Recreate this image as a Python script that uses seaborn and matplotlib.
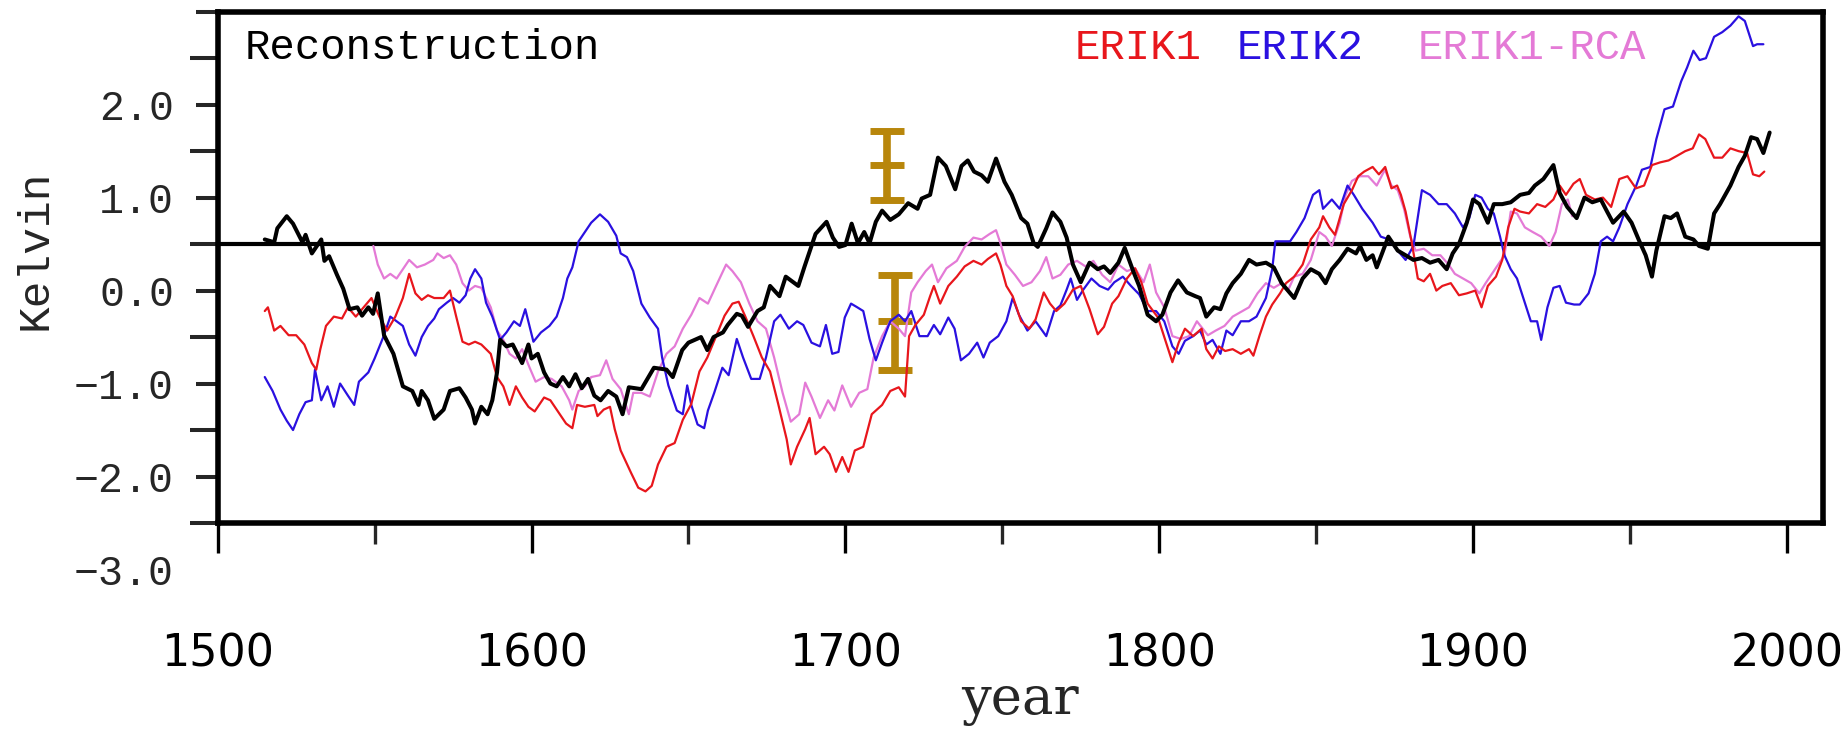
import numpy as np
import pandas as pd
import matplotlib
matplotlib.use("Agg")
import matplotlib.pyplot as plt
import matplotlib.transforms as mtransforms
from matplotlib.ticker import FixedLocator, NullFormatter
import seaborn as sns

# ---------------------------------------------------------------- data
recon_years = [1515, 1518, 1519, 1522, 1524, 1527, 1528, 1530, 1533, 1534, 1535.5, 1538, 1540, 1542,
               1544.5, 1546, 1548, 1549.5, 1551, 1553, 1556, 1559, 1562, 1564, 1565, 1567, 1569, 1572,
               1574, 1577, 1579, 1581, 1582, 1584, 1586, 1587.5, 1589, 1590, 1592, 1594, 1597, 1599,
               1600, 1602, 1604, 1606, 1608, 1610, 1612, 1614, 1616, 1618, 1620, 1622, 1624.4, 1627,
               1629, 1631, 1635, 1639, 1643, 1645, 1648, 1650, 1654, 1656, 1658, 1661, 1662.5, 1665.4,
               1667, 1669, 1672, 1674, 1676, 1679, 1681, 1685, 1687, 1690.5, 1694, 1696, 1698, 1700,
               1702, 1704, 1706, 1707.7, 1709.7, 1711.7, 1714.3, 1717, 1720, 1723, 1724.3, 1727, 1729.5,
               1732, 1735, 1737, 1739, 1741, 1743.4, 1745.4, 1748, 1750.7, 1753, 1756, 1758, 1760,
               1761.3, 1764, 1766, 1768.5, 1770.5, 1772.5, 1775, 1777.8, 1780.4, 1782.4, 1784.4, 1787,
               1789, 1791.7, 1793.6, 1796.3, 1799, 1801, 1803.6, 1806, 1808.8, 1811.5, 1813, 1815,
               1817.5, 1819.5, 1821.4, 1823.4, 1826, 1828.6, 1831, 1834, 1836.5, 1839, 1841, 1843,
               1845.7, 1848.3, 1851, 1853, 1855, 1857.5, 1860, 1862.7, 1864, 1866, 1868, 1869.3, 1871,
               1873, 1876, 1878.5, 1881, 1883.7, 1886.3, 1889, 1891.6, 1893.5, 1895.5, 1898, 1900, 1902,
               1904.7, 1906.6, 1909.3, 1912, 1915, 1917.8, 1919.7, 1922.4, 1925.6, 1927.6, 1930, 1933,
               1935.5, 1938, 1940.7, 1942.7, 1944.6, 1948, 1950.5, 1953, 1955, 1957, 1958.4, 1961, 1963,
               1965, 1967.6, 1970.2, 1972, 1974.8, 1976.8, 1978.7, 1982, 1984.6, 1986.6, 1988.6, 1990.5,
               1992.5, 1994.5]
recon_vals = [0.55, 0.52, 0.67, 0.80, 0.72, 0.52, 0.60, 0.40, 0.55, 0.32, 0.37, 0.17, 0.02, -0.20,
              -0.18, -0.27, -0.18, -0.25, -0.03, -0.48, -0.68, -1.03, -1.08, -1.23, -1.08, -1.18, -1.38, -1.28,
              -1.08, -1.05, -1.15, -1.28, -1.43, -1.25, -1.33, -1.18, -0.88, -0.53, -0.60, -0.58, -0.78, -0.58,
              -0.73, -0.68, -0.88, -1.00, -1.03, -0.93, -1.03, -0.90, -1.05, -0.95, -1.13, -1.18, -1.08, -1.14,
              -1.33, -1.04, -1.06, -0.83, -0.85, -0.93, -0.64, -0.56, -0.50, -0.64, -0.50, -0.45, -0.37, -0.25,
              -0.27, -0.39, -0.22, -0.18, 0.05, -0.06, 0.15, 0.05, 0.26, 0.61, 0.74, 0.57, 0.47, 0.49,
              0.72, 0.51, 0.63, 0.51, 0.74, 0.86, 0.76, 0.82, 0.94, 0.88, 0.99, 1.03, 1.43,
              1.34, 1.09, 1.34, 1.40, 1.28, 1.24, 1.17, 1.42, 1.17, 1.03, 0.78, 0.72, 0.51,
              0.47, 0.67, 0.84, 0.74, 0.57, 0.28, 0.09, 0.30, 0.23, 0.26, 0.19, 0.30,
              0.46, 0.21, 0.05, -0.26, -0.33, -0.26, -0.02, 0.11, -0.02, -0.06, -0.08, -0.28,
              -0.18, -0.20, -0.03, 0.08, 0.18, 0.33, 0.28, 0.30, 0.25, 0.08, 0.00, -0.08,
              0.13, 0.23, 0.18, 0.08, 0.23, 0.33, 0.45, 0.40, 0.48, 0.33, 0.38, 0.25, 0.40,
              0.58, 0.43, 0.38, 0.33, 0.35, 0.30, 0.33, 0.23, 0.40, 0.50, 0.73, 0.98, 0.93,
              0.73, 0.93, 0.93, 0.95, 1.03, 1.05, 1.13, 1.20, 1.35, 1.05, 0.90, 0.78,
              1.00, 0.95, 0.98, 0.85, 0.73, 0.85, 0.73, 0.53, 0.38, 0.15, 0.43, 0.80, 0.78,
              0.83, 0.58, 0.55, 0.48, 0.45, 0.83, 0.93, 1.13, 1.33, 1.45, 1.65, 1.63,
              1.48, 1.70]

erik1_years = [1515, 1516, 1518, 1520, 1522.6, 1525, 1527.6, 1530, 1531.4, 1532.7, 1534.5, 1537, 1539.6,
               1541.5, 1544, 1546.5, 1549, 1551.5, 1554, 1556.6, 1559, 1561, 1563, 1565, 1567, 1569,
               1572, 1574, 1576, 1578, 1580, 1582, 1584, 1587, 1589, 1591, 1593, 1595, 1597, 1599,
               1601, 1604, 1606, 1609, 1611, 1613, 1614.5, 1617, 1620, 1621, 1623, 1625, 1626.5,
               1628.4, 1631.7, 1634, 1636.3, 1638.3, 1640.3, 1643, 1645.6, 1648.2, 1650.9, 1653.5,
               1656, 1658.8, 1661.5, 1664, 1666, 1668, 1670.7, 1673.4, 1676, 1678.6, 1681.3, 1682.6,
               1684.6, 1687.2, 1688.6, 1690.5, 1693.2, 1695, 1697, 1699, 1701, 1703, 1705.7, 1708.4,
               1711.7, 1714.3, 1717, 1719, 1720.3, 1722.3, 1725, 1727, 1728.2, 1730.2, 1732.8, 1735.5,
               1738, 1740.8, 1743.4, 1745.4, 1748, 1749.4, 1751.3, 1753.3, 1756, 1758.6, 1760.6,
               1763.2, 1765.2, 1767.2, 1769.8, 1772.5, 1775, 1777.8, 1780.4, 1782.4, 1785, 1787,
               1789.7, 1792.3, 1794.3, 1796.3, 1799.6, 1802.2, 1804.2, 1806.2, 1808.2, 1810.8, 1813.5,
               1815, 1817, 1819, 1821, 1823.4, 1826, 1828.6, 1830, 1832, 1834, 1836, 1838.5, 1840.4,
               1843, 1845.7, 1848.3, 1851, 1852.2, 1854.2, 1856, 1858.8, 1861.4, 1863.4, 1865.3, 1868,
               1870, 1872, 1874, 1875.8, 1877, 1878.5, 1880.4, 1882.4, 1884.3, 1886.3, 1888.3, 1890.2,
               1892.9, 1895.5, 1898, 1900.7, 1902.7, 1904.7, 1907.3, 1909.3, 1911.2, 1913.2, 1915,
               1917.8, 1920.4, 1923, 1925.6, 1927.6, 1929.6, 1932, 1934, 1936, 1938.8, 1941.4, 1944,
               1946.6, 1949.2, 1951.9, 1954.5, 1957, 1959.7, 1962.3, 1965, 1967.6, 1970, 1972, 1974,
               1976.8, 1979.4, 1982, 1984.6, 1987.3, 1989.2, 1991.2, 1992.8]
erik1_vals = [-0.22, -0.18, -0.43, -0.38, -0.48, -0.48, -0.58, -0.78, -0.85, -0.63, -0.38, -0.28, -0.30,
              -0.18, -0.28, -0.18, -0.08, -0.28, -0.43, -0.28, -0.08, 0.18, -0.03, -0.10, -0.05, -0.08,
              -0.08, 0.00, -0.28, -0.55, -0.58, -0.55, -0.58, -0.68, -0.93, -1.03, -1.23, -1.03, -1.15, -1.25,
              -1.30, -1.15, -1.18, -1.33, -1.43, -1.48, -1.23, -1.25, -1.23, -1.35, -1.28, -1.25, -1.49,
              -1.72, -1.96, -2.12, -2.16, -2.10, -1.87, -1.68, -1.64, -1.39, -1.22, -0.87,
              -0.72, -0.49, -0.27, -0.14, -0.12, -0.27, -0.49, -0.72, -0.87, -1.22, -1.60, -1.87,
              -1.68, -1.49, -1.37, -1.76, -1.68, -1.76, -1.95, -1.79, -1.95, -1.72, -1.68, -1.33,
              -1.23, -1.08, -1.04, -1.14, -0.49, -0.37, -0.26, -0.06, 0.05, -0.14, 0.05, 0.15,
              0.26, 0.32, 0.28, 0.34, 0.40, 0.28, 0.05, -0.06, -0.33, -0.41, -0.31,
              -0.02, -0.14, -0.22, -0.14, 0.01, 0.05, -0.20, -0.47, -0.39, -0.14, -0.06,
              0.13, 0.24, 0.09, -0.14, -0.29, -0.56, -0.77, -0.56, -0.41, -0.49, -0.41,
              -0.63, -0.73, -0.60, -0.65, -0.63, -0.68, -0.63, -0.70, -0.48, -0.28, -0.15, -0.03, 0.08,
              0.15, 0.28, 0.55, 0.68, 0.80, 0.68, 0.60, 0.93, 1.08, 1.23, 1.28, 1.33,
              1.25, 1.33, 1.10, 1.13, 1.03, 0.85, 0.53, 0.13, 0.10, 0.18, 0.00, 0.05,
              0.08, -0.05, -0.03, 0.00, -0.18, 0.05, 0.15, 0.33, 0.68, 0.88, 0.85,
              0.83, 0.93, 0.90, 0.98, 1.13, 1.03, 1.15, 1.20, 1.03, 0.98, 1.00, 0.90,
              1.20, 1.23, 1.10, 1.13, 1.35, 1.38, 1.40, 1.45, 1.50, 1.53, 1.68, 1.63,
              1.43, 1.43, 1.53, 1.50, 1.48, 1.25, 1.23, 1.28]

erik2_years = [1515, 1517.5, 1520, 1522, 1524, 1526, 1528, 1530, 1531, 1533, 1535, 1537, 1539, 1541.5,
               1543.5, 1545, 1548, 1550, 1553, 1555, 1557, 1559, 1561, 1563, 1565, 1567, 1569, 1570.5,
               1573, 1575, 1577, 1579, 1580.5, 1582, 1584, 1585.5, 1587.5, 1590, 1592, 1594.4, 1596.3,
               1598, 1600.6, 1603, 1605.7, 1608, 1610, 1611.4, 1613, 1615, 1617, 1619, 1621.8, 1624.4,
               1627, 1628.4, 1630.4, 1632.4, 1635, 1637.7, 1640.3, 1641.6, 1643.6, 1646.3, 1648.2,
               1649.6, 1650.9, 1652.9, 1655, 1656.2, 1658.2, 1660.8, 1662.8, 1665.4, 1667.4, 1670,
               1672.7, 1674.7, 1677.3, 1679.3, 1682, 1684.6, 1686.6, 1689.2, 1691.9, 1693.8, 1695.8,
               1697.8, 1699.8, 1701.8, 1703.8, 1705.7, 1707.7, 1709.7, 1711.7, 1714.3, 1717, 1719, 1721,
               1723.6, 1726.2, 1728.2, 1730.2, 1732.8, 1734.8, 1736.8, 1739.4, 1742, 1744, 1746, 1748.7,
               1751.3, 1753.3, 1755.3, 1758, 1760.6, 1764, 1766.5, 1768.5, 1770.5, 1771.8, 1773.8,
               1775.8, 1778.4, 1781, 1783.7, 1785.7, 1788.4, 1791, 1793.6, 1796.3, 1799, 1801.6, 1804.2,
               1806.2, 1808.2, 1810.8, 1813, 1815, 1817, 1819.5, 1821.4, 1823.4, 1826, 1828.6, 1831,
               1834, 1836, 1837, 1839, 1841.7, 1843.7, 1846.3, 1849, 1851, 1852.2, 1855, 1857.5, 1860,
               1862, 1864.7, 1868, 1870.6, 1873.2, 1876, 1878.5, 1881, 1883.7, 1886.3, 1889, 1891.6,
               1894.2, 1896.8, 1898.8, 1900.7, 1902.7, 1904.7, 1906.6, 1908.6, 1910, 1912, 1914, 1916.5,
               1918.4, 1920.4, 1921.7, 1923.7, 1925.6, 1927.6, 1929.6, 1932.2, 1934, 1936.8, 1938.8,
               1940.7, 1942.7, 1944.6, 1946.6, 1949.2, 1952, 1953.8, 1956.5, 1958.4, 1961, 1963.7,
               1966.3, 1968.2, 1970.2, 1972.2, 1974.2, 1976.8, 1979.4, 1982, 1984.6, 1986.6, 1989.2,
               1990.5, 1992.5]
erik2_vals = [-0.93, -1.08, -1.28, -1.40, -1.50, -1.33, -1.20, -1.18, -0.85, -1.18, -1.03, -1.25, -1.00, -1.13,
              -1.23, -0.98, -0.88, -0.73, -0.48, -0.28, -0.33, -0.38, -0.58, -0.70, -0.50, -0.38, -0.30, -0.20,
              -0.13, -0.08, -0.13, -0.05, 0.13, 0.23, 0.13, -0.13, -0.28, -0.53, -0.45, -0.33, -0.38,
              -0.20, -0.55, -0.45, -0.38, -0.28, -0.08, 0.13, 0.25, 0.53, 0.63, 0.73, 0.82, 0.74,
              0.59, 0.40, 0.36, 0.21, -0.14, -0.29, -0.41, -0.72, -1.02, -1.29, -1.33,
              -1.02, -1.23, -1.44, -1.48, -1.29, -1.10, -0.83, -0.91, -0.52, -0.72, -0.95,
              -0.95, -0.72, -0.33, -0.26, -0.41, -0.33, -0.37, -0.56, -0.60, -0.37, -0.68,
              -0.66, -0.29, -0.14, -0.18, -0.22, -0.52, -0.75, -0.56, -0.33, -0.26, -0.33, -0.22,
              -0.49, -0.49, -0.37, -0.47, -0.29, -0.41, -0.75, -0.68, -0.56, -0.72, -0.56, -0.49,
              -0.33, -0.08, -0.26, -0.43, -0.33, -0.49, -0.22, -0.16, 0.01, 0.13, -0.10,
              0.01, 0.13, 0.05, 0.01, 0.09, 0.15, 0.05, -0.04, -0.22, -0.22, -0.33, -0.60,
              -0.68, -0.54, -0.49, -0.43, -0.58, -0.53, -0.68, -0.43, -0.48, -0.33, -0.33, -0.28,
              -0.08, 0.23, 0.53, 0.53, 0.53, 0.63, 0.78, 1.03, 1.08, 0.88, 0.98, 0.88, 1.13,
              1.03, 0.88, 0.73, 0.58, 0.55, 0.43, 0.33, 0.48, 1.08, 1.03, 0.93, 0.93,
              0.83, 0.68, 0.78, 1.03, 1.00, 0.88, 0.83, 0.58, 0.38, 0.23, 0.13, -0.13,
              -0.33, -0.33, -0.53, -0.18, 0.03, 0.05, -0.13, -0.15, -0.15, -0.03, 0.18,
              0.53, 0.58, 0.53, 0.68, 0.93, 1.13, 1.30, 1.33, 1.63, 1.95, 1.98,
              2.25, 2.40, 2.58, 2.48, 2.50, 2.73, 2.78, 2.85, 2.95, 2.90, 2.63,
              2.65, 2.65]

rca_years = [1549.6, 1551, 1553, 1555, 1557, 1559, 1561, 1563.5, 1566, 1568.7, 1570, 1572, 1574, 1576,
             1578, 1580, 1582, 1584, 1587, 1589, 1591, 1593, 1595, 1597, 1599.4, 1601.3, 1604, 1606.4,
             1609.6, 1612, 1613, 1615, 1617, 1619, 1621.8, 1623.8, 1625.8, 1628.4, 1631, 1632.4, 1635,
             1637.7, 1640.3, 1643, 1645.6, 1648.2, 1650.9, 1653.5, 1656.2, 1658.8, 1662, 1664, 1666.7,
             1669.4, 1672, 1674.7, 1677.3, 1680, 1682.6, 1685.3, 1687.2, 1689.2, 1691.9, 1694.5, 1696.5,
             1699, 1701.8, 1704.4, 1707, 1709, 1711.7, 1714.3, 1717, 1719, 1721, 1723, 1725.6, 1727.6,
             1729.5, 1732.2, 1735.5, 1738, 1740.8, 1743.4, 1746, 1748, 1749.4, 1751.3, 1754, 1756.6,
             1759.3, 1762, 1764, 1766, 1768.5, 1771, 1773.8, 1776.5, 1779, 1781.8, 1784.4, 1787, 1789.7,
             1792.3, 1795, 1797, 1799, 1801.6, 1804.2, 1806.9, 1809.5, 1812, 1815.5, 1818, 1820.8,
             1823.4, 1826, 1828.6, 1831.3, 1834, 1836.5, 1839, 1841, 1843, 1845.7, 1848.3, 1851, 1853,
             1855, 1857.5, 1859.4, 1861.4, 1864, 1866.6, 1869.3, 1871.9, 1874, 1876, 1878, 1880,
             1881.7, 1884.3, 1887, 1889.6, 1892.2, 1894.2, 1896.8, 1899.4, 1902, 1904, 1906, 1908,
             1910, 1912, 1914, 1916.5, 1919, 1921.7, 1924.3, 1926.3, 1928.3, 1930.2, 1931.6]
rca_vals = [0.48, 0.28, 0.13, 0.18, 0.13, 0.23, 0.33, 0.25, 0.28, 0.33, 0.40, 0.35, 0.38, 0.28,
            0.08, 0.00, 0.05, 0.03, -0.18, -0.43, -0.53, -0.68, -0.73, -0.63, -0.83, -0.98, -0.93, -0.95,
            -1.03, -1.18, -1.28, -1.08, -1.03, -0.93, -0.91, -0.75, -0.95, -1.06, -1.33, -1.10, -1.10,
            -1.14, -0.87, -0.68, -0.60, -0.41, -0.26, -0.08, -0.14, 0.05, 0.28, 0.21, 0.09,
            -0.14, -0.33, -0.41, -0.72, -1.10, -1.41, -1.33, -0.99, -1.14, -1.37, -1.18, -1.29,
            -1.02, -1.25, -1.10, -1.06, -0.72, -0.49, -0.33, -0.41, -0.49, -0.02, 0.09, 0.21, 0.28,
            0.09, 0.24, 0.32, 0.47, 0.57, 0.55, 0.61, 0.65, 0.51, 0.28, 0.17, 0.05,
            0.09, 0.21, 0.36, 0.13, 0.17, 0.28, 0.32, 0.26, 0.32, 0.17, 0.09, 0.28, 0.21,
            0.24, 0.09, 0.28, -0.02, -0.18, -0.49, -0.52, -0.49, -0.33, -0.48, -0.43, -0.38,
            -0.28, -0.23, -0.18, -0.03, 0.08, 0.03, 0.08, 0.00, 0.15, 0.18, 0.33, 0.63, 0.58,
            0.48, 0.73, 1.03, 1.18, 1.23, 1.23, 1.13, 1.30, 1.13, 1.08, 0.88, 0.58,
            0.43, 0.45, 0.38, 0.38, 0.28, 0.18, 0.13, 0.08, -0.03, 0.08, 0.18, 0.28,
            0.38, 0.85, 0.83, 0.68, 0.63, 0.58, 0.48, 0.63, 0.93, 0.98, 0.80]

# two calibration estimates with asymmetric ranges
bar_years = [1713.4, 1715.7]
bar_mid = [1.35, -0.33]
bar_low = [0.975, -0.85]
bar_high = [1.72, 0.17]

reference_level = 0.5

xtick_years = [1500, 1600, 1700, 1800, 1900, 2000]
xtick_labels = ["1500", "1600", "1700", "1800", "1900", "2000"]
xminor_years = [1550, 1650, 1750, 1850, 1950]
ytick_vals = [2.0, 1.0, 0.0, -1.0, -2.0, -3.0]
ytick_labels = ["2.0", "1.0", "0.0", "\u22121.0", "\u22122.0", "\u22123.0"]
ymajor_marks = [3.0, 2.0, 1.0, 0.0, -1.0, -2.0]
yminor_marks = [2.5, 1.5, 0.5, -0.5, -1.5, -2.5]

series_names = ["ERIK1-RCA", "ERIK2", "ERIK1", "Reconstruction"]
series_colors = {"ERIK1": "#e8161c", "ERIK2": "#2a10e0", "ERIK1-RCA": "#e47ad6",
                 "Reconstruction": "black"}
bar_color = "#b8860b"

# ---------------------------------------------------------------- style
sns.set_style("white")
mono = ["Liberation Mono", "DejaVu Sans Mono"]
plt.rcParams["font.family"] = mono

W, H = 1845, 729
fig = plt.figure(figsize=(W / 100, H / 100), dpi=100)
ax_left, ax_right, ax_top, ax_bottom = 217.7, 1823.0, 11.7, 523.0
ax = fig.add_axes([ax_left / W, 1 - ax_bottom / H,
                   (ax_right - ax_left) / W, (ax_bottom - ax_top) / H])

frames = {
    "ERIK1-RCA": pd.DataFrame({"year": rca_years, "K": rca_vals}),
    "ERIK2": pd.DataFrame({"year": erik2_years, "K": erik2_vals}),
    "ERIK1": pd.DataFrame({"year": erik1_years, "K": erik1_vals}),
    "Reconstruction": pd.DataFrame({"year": recon_years, "K": recon_vals}),
}
widths = {"ERIK1-RCA": 1.6, "ERIK2": 1.6, "ERIK1": 1.6, "Reconstruction": 2.9}

ax.axhline(reference_level, color="black", lw=3.0, zorder=1.8)

mid = np.array(bar_mid)
yerr = np.vstack([mid - np.array(bar_low), np.array(bar_high) - mid])
ax.errorbar(bar_years, bar_mid, yerr=yerr, fmt="_", color=bar_color, ms=24, mew=5,
            elinewidth=5.5, capsize=12, capthick=5, zorder=1.5)

for name in series_names:
    sns.lineplot(data=frames[name], x="year", y="K", color=series_colors[name],
                 linewidth=widths[name], estimator=None, legend=False, ax=ax, zorder=2)

ax.set_xlim(1500, 2011.5)
ax.set_ylim(-2.5, 3.0)

for s in ax.spines.values():
    s.set_visible(True)
    s.set_linewidth(4)
    s.set_color("black")

# x axis ticks and labels
ax.set_xticks(xtick_years)
ax.set_xticklabels(xtick_labels, fontfamily="DejaVu Sans", fontsize=32)
ax.xaxis.set_minor_locator(FixedLocator(xminor_years))
ax.tick_params(axis="x", which="major", direction="out", length=21.6, width=2.4, pad=57,
               bottom=True, colors="black")
ax.tick_params(axis="x", which="minor", direction="out", length=15, width=2.4, bottom=True)

# y axis: short marks at integers, long marks at half-integers
ax.yaxis.set_major_locator(FixedLocator(ymajor_marks))
ax.yaxis.set_minor_locator(FixedLocator(yminor_marks))
ax.yaxis.set_major_formatter(NullFormatter())
ax.tick_params(axis="y", which="major", direction="out", length=15.8, width=2.9, left=True,
               labelleft=False)
ax.tick_params(axis="y", which="minor", direction="out", length=20, width=2.9, left=True)

ylab_tr = mtransforms.blended_transform_factory(ax.transAxes, ax.transData)
for v, s in zip(ytick_vals, ytick_labels):
    ax.text(-0.0272, v, s, transform=ylab_tr, ha="right", va="center_baseline",
            fontsize=30, family=mono, clip_on=False)

ax.set_xlabel("year", fontfamily="DejaVu Serif", fontsize=38)
ax.xaxis.set_label_coords(0.5, -0.373)
ax.xaxis.label.set_va("baseline")

ax.set_ylabel("Kelvin", fontsize=32, family=mono)
ax.yaxis.set_label_coords(-0.1138, 0.534)
ax.yaxis.label.set_va("center")

# in-panel titles
base_y = 0.9075
ax.text(0.017, base_y, "Reconstruction", transform=ax.transAxes, ha="left", va="baseline",
        fontsize=30.5, color="black")
for name, xc in [("ERIK1", 0.5733), ("ERIK2", 0.6743), ("ERIK1-RCA", 0.8187)]:
    ax.text(xc, base_y, name, transform=ax.transAxes, ha="center", va="baseline",
            fontsize=30.5, color=series_colors[name])

fig.savefig("out.png", dpi=100)
